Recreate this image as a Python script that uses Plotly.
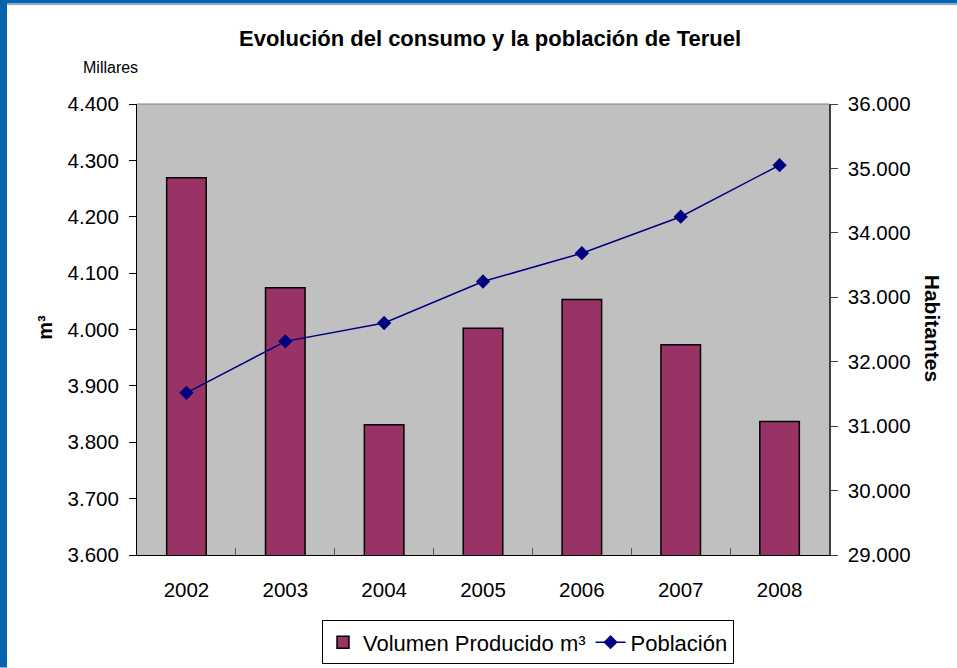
import plotly.graph_objects as go

years = ["2002", "2003", "2004", "2005", "2006", "2007", "2008"]
volumen = [4269, 4074, 3831, 4002, 4053, 3973, 3837]
poblacion = [31517, 32316, 32601, 33245, 33684, 34251, 35051]

W, H = 957, 668
L, R, T, B = 137, 829, 104, 555.5

def px(x):
    return (x - L) / (R - L)

def py(y):
    return (B - y) / (B - T)

fig = go.Figure()
fig.add_trace(go.Bar(
    x=years, y=volumen, name="Volumen Producido m³",
    marker=dict(color="#993366", line=dict(color="black", width=1.5)),
    yaxis="y",
))
fig.add_trace(go.Scatter(
    x=years, y=poblacion, name="Población", mode="lines+markers",
    line=dict(color="#000080", width=1.5),
    marker=dict(symbol="diamond", size=11, color="#000080"),
    yaxis="y2",
))

font = "Liberation Sans, Arial, sans-serif"
TF = 20.5
fig.update_layout(
    width=W, height=H,
    margin=dict(l=L, r=W - R, t=T, b=H - B, pad=0, autoexpand=False),
    paper_bgcolor="white", plot_bgcolor="#C0C0C0",
    separators=",.",
    font=dict(family=font, size=TF, color="black"),
    bargap=0.6,
    showlegend=True,
    legend=dict(orientation="h", x=px(528), xanchor="center", y=py(643), yanchor="middle",
                bordercolor="black", borderwidth=1, font=dict(size=22), bgcolor="white",
                tracegroupgap=0),
    xaxis=dict(showline=True, linecolor="black", linewidth=1, ticks="inside", tickson="boundaries",
               ticklen=7, tickcolor="#555", showgrid=False, tickfont=dict(size=TF),
               ticklabelstandoff=16),
    yaxis=dict(range=[3600, 4400], dtick=100, tickformat=",.0f", showline=True, linecolor="black",
               linewidth=1, ticks="outside", ticklen=7, tickcolor="black", showgrid=False,
               tickfont=dict(size=TF), zeroline=False, ticklabelstandoff=6),
    yaxis2=dict(range=[29000, 36000], dtick=1000, tickformat=",.0f", overlaying="y", side="right",
                showline=True, linecolor="#404040", linewidth=1.5, ticks="outside", ticklen=7,
                tickcolor="#404040", showgrid=False, tickfont=dict(size=TF), zeroline=False,
                ticklabelstandoff=6),
    shapes=[
        dict(type="line", xref="paper", yref="paper", x0=0, x1=1, y0=1, y1=1,
             line=dict(color="#808080", width=1)),
        dict(type="rect", xref="paper", yref="paper", x0=px(0), x1=px(957), y0=py(0), y1=py(3.5),
             fillcolor="#0563B0", line=dict(width=0)),
        dict(type="line", xref="paper", yref="paper", x0=px(0), x1=px(957), y0=py(4.5), y1=py(4.5),
             line=dict(color="#9a9a9a", width=1)),
        dict(type="rect", xref="paper", yref="paper", x0=px(0), x1=px(7), y0=py(0), y1=py(668),
             fillcolor="#0563B0", line=dict(width=0)),
    ],
    annotations=[
        dict(text="<b>Evolución del consumo y la población de Teruel</b>", xref="paper", yref="paper",
             x=px(490), y=py(38), xanchor="center", yanchor="middle", showarrow=False,
             font=dict(size=22)),
        dict(text="Millares", xref="paper", yref="paper", x=px(110), y=py(67),
             xanchor="center", yanchor="middle", showarrow=False, font=dict(size=16)),
        dict(text="<b>m³</b>", xref="paper", yref="paper", x=px(45), y=py(328),
             xanchor="center", yanchor="middle", showarrow=False, textangle=-90, font=dict(size=20)),
        dict(text="<b>Habitantes</b>", xref="paper", yref="paper", x=px(932), y=py(328),
             xanchor="center", yanchor="middle", showarrow=False, textangle=90, font=dict(size=21)),
    ],
)

fig.write_html("out.html", config={"displayModeBar": False},
               post_script="document.body.style.margin='0';document.body.style.overflow='hidden';")
